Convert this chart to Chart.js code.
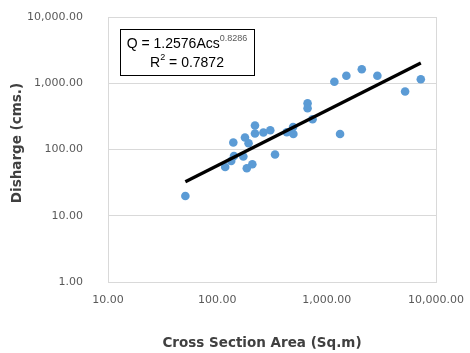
<!DOCTYPE html>
<html>
<head>
<meta charset="utf-8">
<script src="https://cdn.jsdelivr.net/npm/chart.js@4"></script>
<style>
  html, body { margin: 0; padding: 0; background: #fff; }
  #wrap { width: 470px; height: 353px; }
</style>
</head>
<body>
<div id="wrap"><canvas id="c" width="470" height="353"></canvas></div>
<script>
// Cross section area (Sq.m) of each observation
const areaValues = [51, 118, 134, 142, 173, 186, 209, 140, 179, 193, 221, 221, 264, 305, 337, 432, 493, 496, 669, 669, 743, 1176, 1514, 2095, 2910, 1326, 5216, 7262];
// Discharge (cms.) of each observation
const dischargeValues = [19.9, 54.4, 67, 79.8, 78.4, 52, 59.8, 127.5, 151.8, 124, 230, 174.4, 180.5, 194.9, 84, 181.8, 218.6, 171.4, 498, 418.7, 285.6, 1055, 1300, 1624, 1300, 171.4, 750.6, 1151];
// Power trend line endpoints
const trendArea = [51, 7262];
const trendDischarge = [32.6, 2020];
// Tick values
const xTicks = [10, 100, 1000, 10000];
const yTicks = [1, 10, 100, 1000, 10000];
const xTitle = "Cross Section Area (Sq.m)";
const yTitle = "Disharge (cms.)";
const equationText = "Q = 1.2576Acs";
const exponentText = "0.8286";
const r2Label = "R";
const r2Text = " = 0.7872";

function fmt(v) {
  const parts = Number(v).toFixed(2).split('.');
  parts[0] = parts[0].replace(/\B(?=(\d{3})+(?!\d))/g, ',');
  return parts.join('.');
}

const FONT = "'Liberation Sans', Arial, sans-serif";
const AXFONT = "'DejaVu Sans', Verdana, sans-serif";

const overlay = {
  id: 'overlay',
  afterDraw(chart) {
    const ctx = chart.ctx;
    const a = chart.chartArea;
    ctx.save();
    ctx.strokeStyle = '#d9d9d9';
    ctx.lineWidth = 1;
    ctx.strokeRect(Math.round(a.left) + 0.5, Math.round(a.top) + 0.5, Math.round(a.right - a.left), Math.round(a.bottom - a.top));
    // axis titles
    ctx.fillStyle = '#404040';
    ctx.font = 'bold 13.5px ' + AXFONT;
    ctx.textAlign = 'center';
    ctx.textBaseline = 'middle';
    ctx.fillText(xTitle, 262, 343);
    ctx.save();
    ctx.translate(17, 143);
    ctx.rotate(-Math.PI / 2);
    ctx.fillText(yTitle, 0, 0);
    ctx.restore();
    ctx.textAlign = 'left';
    // equation box
    const bx = 120, by = 29, bw = 134, bh = 46;
    ctx.fillStyle = '#fff';
    ctx.fillRect(bx, by, bw, bh);
    ctx.strokeStyle = '#000';
    ctx.strokeRect(bx + 0.5, by + 0.5, bw, bh);
    ctx.textBaseline = 'alphabetic';
    ctx.font = '14px ' + FONT;
    const w1 = ctx.measureText(equationText).width;
    ctx.font = '9px ' + FONT;
    const w1s = ctx.measureText(exponentText).width;
    const x1 = bx + (bw - (w1 + w1s)) / 2;
    ctx.fillStyle = '#000';
    ctx.font = '14px ' + FONT;
    ctx.fillText(equationText, x1, 48);
    ctx.fillStyle = '#595959';
    ctx.font = '9px ' + FONT;
    ctx.fillText(exponentText, x1 + w1, 41);
    // R² line
    ctx.font = '14px ' + FONT;
    const wr = ctx.measureText(r2Label).width;
    const wt = ctx.measureText(r2Text).width;
    ctx.font = '9px ' + FONT;
    const w2 = ctx.measureText('2').width;
    const x2 = bx + (bw - (wr + w2 + wt)) / 2;
    ctx.fillStyle = '#000';
    ctx.font = '14px ' + FONT;
    ctx.fillText(r2Label, x2, 67);
    ctx.font = '9px ' + FONT;
    ctx.fillText('2', x2 + wr, 60);
    ctx.font = '14px ' + FONT;
    ctx.fillText(r2Text, x2 + wr + w2, 67);
    ctx.restore();
  }
};

new Chart(document.getElementById('c'), {
  type: 'scatter',
  data: {
    datasets: [
      {
        label: 'Trend',
        data: trendArea.map((x, i) => ({ x: x, y: trendDischarge[i] })),
        showLine: true,
        borderColor: '#000',
        borderWidth: 3.2,
        pointRadius: 0,
        fill: false
      },
      {
        label: 'Data',
        data: areaValues.map((x, i) => ({ x: x, y: dischargeValues[i] })),
        backgroundColor: '#5B9BD5',
        borderColor: '#5B9BD5',
        pointRadius: 4.3,
        borderWidth: 0
      }
    ]
  },
  options: {
    responsive: false,
    animation: false,
    layout: { padding: { top: 17, right: 34, left: 0, bottom: 0 } },
    plugins: { legend: { display: false }, tooltip: { enabled: false } },
    scales: {
      x: {
        type: 'logarithmic',
        min: 10, max: 10000,
        afterBuildTicks(axis) { axis.ticks = xTicks.map(v => ({ value: v })); },
        afterFit(axis) { axis.height = 71; axis.paddingLeft = 0; axis.paddingRight = 0; },
        grid: { display: false, drawTicks: false },
        border: { display: true, color: '#d9d9d9' },
        ticks: {
          padding: 12,
          color: '#595959',
          font: { family: AXFONT, size: 11 },
          autoSkip: false,
          maxRotation: 0,
          callback: v => fmt(v)
        },
        title: { display: false }
      },
      y: {
        type: 'logarithmic',
        min: 1, max: 10000,
        afterBuildTicks(axis) { axis.ticks = yTicks.map(v => ({ value: v })); },
        afterFit(axis) { axis.width = 108; axis.paddingTop = 0; axis.paddingBottom = 0; },
        grid: { color: '#d9d9d9', drawTicks: false },
        border: { display: true, color: '#d9d9d9' },
        ticks: {
          padding: 25,
          color: '#595959',
          font: { family: AXFONT, size: 11 },
          autoSkip: false,
          callback: v => fmt(v)
        },
        title: { display: false }
      }
    }
  },
  plugins: [overlay]
});
</script>
</body>
</html>
